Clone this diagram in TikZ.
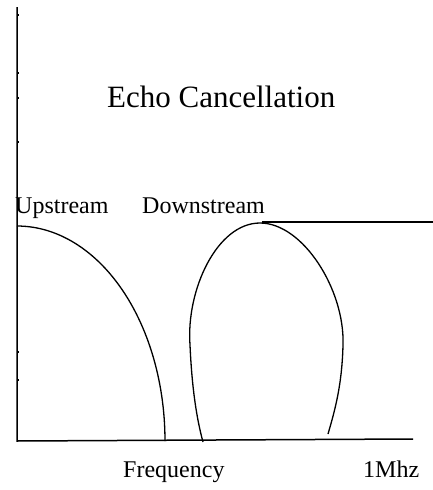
\documentclass[tikz,border=0pt]{standalone}
\usepackage{fontspec}
\setmainfont{Liberation Serif}
\begin{document}
\begin{tikzpicture}[x=1pt,y=-1pt,
  axisline/.style={line width=1.5pt,black},
  curveline/.style={line width=1.3pt,black},
  tickmark/.style={line width=1.2pt},
  lbl/.style={inner sep=0pt,anchor=base west,font=\fontsize{24}{24}\selectfont},
  ttl/.style={inner sep=0pt,anchor=base west,font=\fontsize{31}{31}\selectfont}]
\useasboundingbox (0,0) rectangle (433,490);
% axes
\coordinate (top) at (17,7);
\coordinate (origin) at (17,441);
\coordinate (xend) at (413,439);
\draw[axisline] (top) -- (origin) -- (xend);
\foreach \t in {15,73,98,142,352,380}{\draw[tickmark] (17,\t) -- (19,\t);}
% texts
\node[ttl] (title) at (107,107) {Echo Cancellation};
\node[lbl] (up) at (15,213) {Upstream};
\node[lbl] (down) at (142,213) {Downstream};
\node[lbl] (freq) at (123,477) {Frequency};
\node[lbl] (mhz) at (363,477) {1Mhz};
% upstream curve
\draw[curveline] plot[domain=90:0,samples=60] ({17+148*cos(\x)},{441-215*sin(\x)});
% downstream curve
\coordinate (dsl) at (203,442);
\coordinate (dstop) at (260,223);
\coordinate (dsr) at (328,434);
\draw[curveline] (dsl) .. controls (197,420) and (192,390) .. (190,345)
  .. controls (186,290) and (217,223) .. (dstop)
  .. controls (303,223) and (345,290) .. (343,345)
  .. controls (342,385) and (335,410) .. (dsr);
% top level line
\coordinate (lvl) at (262,222);
\coordinate (lvlend) at (433,222);
\draw[axisline] (lvl) -- (lvlend);
\end{tikzpicture}
\end{document}
